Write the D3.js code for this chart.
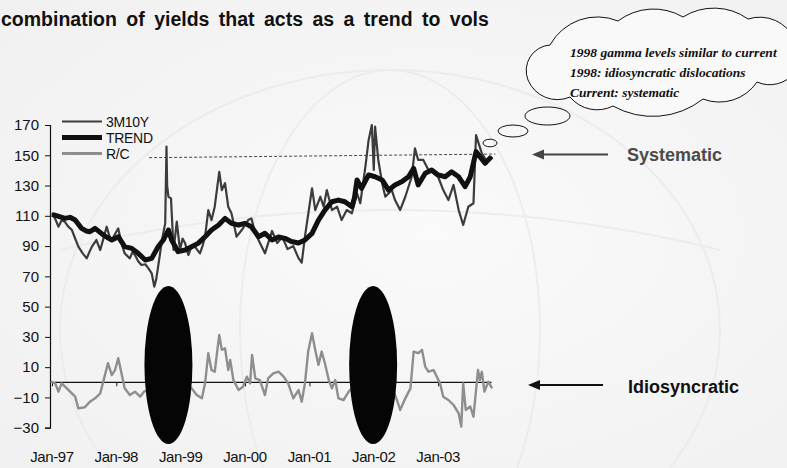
<!DOCTYPE html>
<html><head><meta charset="utf-8">
<script src="https://cdn.jsdelivr.net/npm/d3@7"></script>
<style>html,body{margin:0;padding:0;background:#f3f3f3;}svg{display:block;}</style>
</head><body>
<svg id="c" width="787" height="468"></svg>
<script>
// ---------- DATA (decimal year, value) ----------
const seriesNames = ["3M10Y", "TREND", "R/C"];
const s3M10Y = [[1997.00,111.7],[1997.05,108],[1997.10,102.8],[1997.15,107],[1997.20,106],[1997.25,103],[1997.31,100.6],[1997.36,95],[1997.41,89.6],[1997.48,85],[1997.54,81.9],[1997.58,86],[1997.62,89.6],[1997.69,94],[1997.75,87.4],[1997.80,95],[1997.85,102.8],[1997.89,97],[1997.93,94],[1997.98,98],[1998.03,101.7],[1998.08,92],[1998.13,85.2],[1998.21,81.9],[1998.25,86],[1998.29,84.1],[1998.34,80],[1998.39,77.5],[1998.45,78],[1998.50,75.3],[1998.55,72],[1998.59,63.2],[1998.62,68],[1998.65,76.4],[1998.71,94],[1998.76,105],[1998.78,155.7],[1998.79,130],[1998.81,122.6],[1998.85,121.5],[1998.89,87.4],[1998.94,106.1],[1998.99,87.4],[1999.03,95],[1999.07,91.8],[1999.12,84.1],[1999.17,90],[1999.22,89.6],[1999.30,85.2],[1999.34,90],[1999.38,96.2],[1999.43,113.8],[1999.48,107.2],[1999.53,116],[1999.60,139.1],[1999.64,127],[1999.69,131.5],[1999.74,116],[1999.79,111.7],[1999.87,96.2],[1999.95,100.6],[2000.05,107.2],[2000.10,108.3],[2000.15,100],[2000.21,94],[2000.31,85.2],[2000.42,100],[2000.50,92],[2000.58,96],[2000.66,88],[2000.75,90],[2000.83,82],[2000.88,79],[2000.93,96.2],[2001.04,128.2],[2001.09,113.8],[2001.17,122.6],[2001.22,116],[2001.27,127],[2001.35,113.8],[2001.43,116],[2001.50,107.2],[2001.58,113.8],[2001.66,111.7],[2001.74,124.9],[2001.79,118.3],[2001.87,142.5],[2001.92,160.1],[2001.97,170],[2002.00,140.3],[2002.02,168.9],[2002.07,146.9],[2002.13,131.5],[2002.18,122.6],[2002.28,127],[2002.33,120.4],[2002.41,113.8],[2002.49,122.6],[2002.59,135.8],[2002.64,154.6],[2002.69,146.9],[2002.77,146.9],[2002.85,140.3],[2002.90,139.1],[2003.00,135.8],[2003.08,127],[2003.16,120.4],[2003.24,130.4],[2003.32,113.8],[2003.39,103.9],[2003.47,116],[2003.55,118.3],[2003.59,163.4],[2003.63,157.9],[2003.68,151.3],[2003.76,145.8],[2003.84,149.1]];
const sTrend = [[1997.00,111],[1997.08,110],[1997.20,108.3],[1997.28,109],[1997.36,107.2],[1997.46,101.7],[1997.53,100],[1997.59,99.5],[1997.67,101.7],[1997.80,97.3],[1997.93,94],[1998.03,96.2],[1998.13,89.6],[1998.24,88.5],[1998.34,85.2],[1998.45,80.8],[1998.55,81.9],[1998.65,89.6],[1998.73,94],[1998.81,100.6],[1998.86,94],[1998.96,86.3],[1999.07,87.4],[1999.17,89.6],[1999.27,91.8],[1999.38,96.2],[1999.48,100.6],[1999.59,103.9],[1999.69,108.3],[1999.79,105],[1999.90,103.9],[2000.00,105],[2000.10,102.8],[2000.21,96.2],[2000.31,98.5],[2000.42,94],[2000.52,96],[2000.62,95.1],[2000.72,93],[2000.83,92],[2000.93,94],[2001.04,98.4],[2001.14,107.2],[2001.24,113.8],[2001.35,119.3],[2001.45,120.4],[2001.55,119.3],[2001.66,116],[2001.70,122],[2001.74,133.7],[2001.81,128.2],[2001.92,137],[2002.02,135.8],[2002.13,133.7],[2002.23,127],[2002.33,130.4],[2002.44,132.6],[2002.54,135.8],[2002.62,141.4],[2002.69,130.4],[2002.80,138.1],[2002.90,140.3],[2003.00,137],[2003.11,135.8],[2003.21,139.1],[2003.32,135.8],[2003.42,129.3],[2003.50,135.8],[2003.59,152.4],[2003.65,149.1],[2003.73,144.7],[2003.83,149.1]];
const sRC = [[1996.98,0.4],[1997.05,-0.7],[1997.10,-6.2],[1997.15,-0.7],[1997.23,-4],[1997.31,-7.3],[1997.36,-9.5],[1997.41,-17.2],[1997.51,-16.5],[1997.59,-12.8],[1997.67,-10.6],[1997.75,-7.3],[1997.81,2.6],[1997.87,12.6],[1997.93,4.8],[1997.98,8.1],[1998.03,15.9],[1998.08,5.9],[1998.13,-4],[1998.21,-8.4],[1998.29,-6.2],[1998.37,-9.5],[1998.43,-6.2],[1998.50,-5],[1998.59,-18],[1998.65,-13],[1998.71,2],[1998.78,55],[1998.81,22],[1998.89,0],[1998.94,15],[1998.99,0],[1999.17,-4],[1999.25,-8.4],[1999.33,-10.6],[1999.38,-0.7],[1999.43,19.2],[1999.48,8.1],[1999.53,7],[1999.60,31.3],[1999.64,21.4],[1999.69,22.5],[1999.74,8.1],[1999.77,14.8],[1999.82,1.5],[1999.90,-5.1],[1999.97,-2.9],[2000.03,3.7],[2000.08,-0.7],[2000.11,18.1],[2000.16,2.6],[2000.23,1.5],[2000.31,-8.4],[2000.36,2.6],[2000.44,5.9],[2000.52,7],[2000.60,3.7],[2000.67,-0.7],[2000.75,-10.6],[2000.83,-5.1],[2000.88,-12.8],[2000.93,-0.7],[2000.98,20.3],[2001.04,32.4],[2001.09,21.4],[2001.14,11.5],[2001.19,20.3],[2001.24,12.6],[2001.30,1.5],[2001.35,-4],[2001.40,1.5],[2001.45,-10.6],[2001.53,-11.7],[2001.61,-6.2],[2001.66,-4],[2001.74,-8],[2001.79,-10],[2001.87,10],[2001.92,20],[2001.97,32],[2002.00,5],[2002.02,33],[2002.07,12],[2002.13,-2],[2002.18,-5],[2002.28,-3],[2002.36,-11.7],[2002.41,-18.3],[2002.49,-10.6],[2002.57,-4],[2002.62,20.3],[2002.69,19.2],[2002.75,21.4],[2002.80,10.4],[2002.85,7],[2002.93,8.1],[2002.98,3.7],[2003.03,-0.7],[2003.08,-9.5],[2003.16,-11.7],[2003.24,-15],[2003.32,-20.5],[2003.36,-29.3],[2003.39,-0.7],[2003.43,-18.3],[2003.50,-16],[2003.55,-22.7],[2003.59,-5.1],[2003.62,8.1],[2003.65,1.5],[2003.68,7],[2003.72,-6.2],[2003.78,0.4],[2003.84,-4]];
const yTicks = [170,150,130,110,90,70,50,30,10,-10,-30];
const xTickYears = [1997,1998,1999,2000,2001,2002,2003];
const xTickLabels = ["Jan-97","Jan-98","Jan-99","Jan-00","Jan-01","Jan-02","Jan-03"];
const refLine = [[1998.51,148.4],[2003.89,150.8]];
const blobs = [[1998.81,11.4],[2001.99,11.4]];      // black ellipse centres (year, value)
const cloudLines = ["1998 gamma levels similar to current","1998: idiosyncratic dislocations","Current: systematic"];
const titleText = "combination of yields that acts as a trend to vols";

// ---------- SETUP ----------
const svg = d3.select("#c");
const W = 787, H = 468;
function yearToDate(y){const yr=Math.floor(y);const a=new Date(yr,0,1),b=new Date(yr+1,0,1);return new Date(+a+(y-yr)*(b-a));}
const x = d3.scaleTime().domain([new Date(1997,0,1), new Date(2003,0,1)]).range([52, 438.1]);
const y = d3.scaleLinear().domain([-30,170]).range([427.7,125]);

// background
const defs = svg.append("defs");
const rg = defs.append("radialGradient").attr("id","bg").attr("cx","55%").attr("cy","50%").attr("r","75%");
rg.append("stop").attr("offset","0%").attr("stop-color","#fafafa");
rg.append("stop").attr("offset","100%").attr("stop-color","#f0f0f0");
svg.append("rect").attr("width",W).attr("height",H).attr("fill","url(#bg)");
// faint globe arcs
const gl = svg.append("g").attr("fill","none").attr("stroke","#ebebeb").attr("stroke-width",2).attr("opacity",0.8);
gl.append("ellipse").attr("cx",390).attr("cy",330).attr("rx",330).attr("ry",260);
gl.append("ellipse").attr("cx",390).attr("cy",330).attr("rx",150).attr("ry",260);
gl.append("path").attr("d","M60,250 Q390,170 720,250");

// title
svg.append("text").attr("x",1).attr("y",26).attr("font-family","Liberation Sans, Arial, sans-serif")
  .attr("font-weight","bold").attr("font-size",19.5).attr("word-spacing",4).attr("fill","#111").text(titleText);

// y axis
const yAx = svg.append("g").attr("transform","translate(50,0)")
  .call(d3.axisLeft(y).tickValues(yTicks).tickSize(5).tickPadding(6).tickFormat(d3.format("d")));
yAx.select(".domain").attr("stroke","#111").attr("stroke-width",1.2);
yAx.selectAll(".tick line").attr("stroke","#111");
yAx.selectAll("text").attr("font-family","Liberation Sans, Arial, sans-serif").attr("font-size",15).attr("fill","#111");

// zero axis with ticks
const xAx = svg.append("g").attr("transform",`translate(0,${y(0)})`)
  .call(d3.axisBottom(x).tickValues(xTickYears.map(v=>new Date(v,0,1))).tickSize(4).tickFormat(""));
xAx.select(".domain").attr("d",`M50,0H${x(yearToDate(2003.83))}`).attr("stroke","#111").attr("stroke-width",1.2);
xAx.selectAll(".tick line").attr("stroke","#111");

// x labels
svg.append("g").selectAll("text").data(xTickYears).join("text")
  .attr("x",(d)=>x(new Date(d,0,1))).attr("y",462).attr("text-anchor","middle")
  .attr("font-family","Liberation Sans, Arial, sans-serif").attr("font-size",15).attr("letter-spacing",-0.4).attr("fill","#111")
  .text((d,i)=>xTickLabels[i]);

// dashed reference line
svg.append("line").attr("x1",x(yearToDate(refLine[0][0]))).attr("y1",y(refLine[0][1]))
  .attr("x2",x(yearToDate(refLine[1][0]))).attr("y2",y(refLine[1][1]))
  .attr("stroke","#333").attr("stroke-width",0.9).attr("stroke-dasharray","3,2");

// lines
const line = d3.line().x(d=>x(yearToDate(d[0]))).y(d=>y(d[1]));
svg.append("path").datum(s3M10Y).attr("d",line).attr("fill","none").attr("stroke","#3c3c3c").attr("stroke-width",2.2).attr("stroke-linejoin","round");
svg.append("path").datum(sTrend).attr("d",line).attr("fill","none").attr("stroke","#111").attr("stroke-width",5).attr("stroke-linejoin","round");
svg.append("path").datum(sRC).attr("d",line).attr("fill","none").attr("stroke","#8e8e8e").attr("stroke-width",2.4).attr("stroke-linejoin","round");

// black ellipses
svg.append("g").selectAll("ellipse").data(blobs).join("ellipse")
  .attr("cx",d=>x(yearToDate(d[0]))).attr("cy",d=>y(d[1]))
  .attr("rx",24).attr("ry",79).attr("fill","#050505");

// legend
const lg = svg.append("g");
const lgStyles = [{c:"#3c3c3c",w:2.2,yy:121.5},{c:"#111",w:5,yy:137.5},{c:"#8e8e8e",w:3,yy:153.5}];
seriesNames.forEach((n,i)=>{
  const s = lgStyles[i];
  lg.append("line").attr("x1",62).attr("x2",102).attr("y1",s.yy).attr("y2",s.yy).attr("stroke",s.c).attr("stroke-width",s.w);
  lg.append("text").attr("x",106).attr("y",s.yy+5).attr("font-family","Liberation Sans, Arial, sans-serif")
    .attr("font-size",14).attr("letter-spacing",-0.3).attr("fill","#111").text(n);
});

// arrows
function arrow(x1,x2,yy,col){
  svg.append("line").attr("x1",x1).attr("x2",x2+10).attr("y1",yy).attr("y2",yy).attr("stroke",col).attr("stroke-width",2);
  svg.append("path").attr("d",`M${x2},${yy}L${x2+12},${yy-5}L${x2+12},${yy+5}Z`).attr("fill",col);
}
arrow(608,532,154.5,"#444");
arrow(603,528,385,"#111");
svg.append("text").attr("x",627).attr("y",160.5).attr("font-family","Liberation Sans, Arial, sans-serif")
  .attr("font-weight","bold").attr("font-size",18).attr("fill","#4a4a4a").text("Systematic");
svg.append("text").attr("x",628).attr("y",392.5).attr("font-family","Liberation Sans, Arial, sans-serif")
  .attr("font-weight","bold").attr("font-size",18).attr("fill","#111").text("Idiosyncratic");

// thought cloud
const pts = [[528,80],[550,45],[618,21],[683,17],[748,19],[795,40],[795,72],[757,82],[703,99],[613,106],[570,97],[528,80]];
const rf = [0.62,0.75,0.9,0.9,0.75,0.6,0.8,0.8,0.9,0.8,0.7];
let d = `M${pts[0][0]},${pts[0][1]}`;
for(let i=1;i<pts.length;i++){
  const [ax,ay]=pts[i-1],[bx,by]=pts[i];
  const c=Math.hypot(bx-ax,by-ay); const r=c*rf[i-1];
  d+=`A${r},${r} 0 0 1 ${bx},${by}`;
}
svg.append("path").attr("d",d).attr("fill","#f9f9f9").attr("stroke","#111").attr("stroke-width",1);
const ovals = [[547.5,116,22.5,9],[513,131,15,6],[490,143,7,3.8]];
svg.append("g").selectAll("ellipse").data(ovals).join("ellipse")
  .attr("cx",d=>d[0]).attr("cy",d=>d[1]).attr("rx",d=>d[2]).attr("ry",d=>d[3])
  .attr("fill","none").attr("stroke","#111").attr("stroke-width",1);
svg.append("g").selectAll("text").data(cloudLines).join("text")
  .attr("x",570).attr("y",(d,i)=>57+i*20).attr("font-family","Liberation Serif, serif")
  .attr("font-style","italic").attr("font-weight","bold").attr("font-size",13.5).attr("fill","#111").text(d=>d);
</script>
</body></html>
